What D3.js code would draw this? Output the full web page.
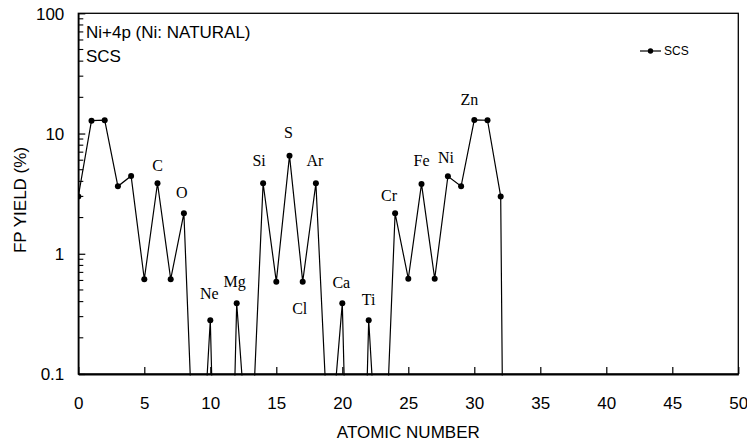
<!DOCTYPE html>
<html><head><meta charset="utf-8">
<script src="https://cdn.jsdelivr.net/npm/d3@7"></script>
<style>
body{margin:0;background:#fff;}
svg{display:block;}
</style></head>
<body>
<svg id="chart" width="747" height="446"></svg>
<script>
// ---- data ----
const atomicNumbers = [0,1,2,3,4,5,6,7,8,9,10,11,12,13,14,15,16,17,18,19,20,21,22,23,24,25,26,27,28,29,30,31,32,33];
const yieldSCS = [3.0,12.8,12.9,3.64,4.44,0.614,3.86,0.614,2.17,0.0034,0.28,0.000013,0.387,0.012,3.86,0.586,6.55,0.586,3.86,0.019,0.387,0.000016,0.28,0.004,2.17,0.62,3.81,0.62,4.41,3.64,12.97,12.9,3.0,1e-12];
const elementZ = [6,8,10,12,14,16,17,18,20,22,24,26,28,30];
const elementNames = ["C","O","Ne","Mg","Si","S","Cl","Ar","Ca","Ti","Cr","Fe","Ni","Zn"];
const labelDx = [0,-2,-1,-2,-4,-1,-3,-1,-1,0,-6,0,-2,-5];
const labelDy = [-18,-21,-27,-22,-23,-23,27,-23,-21,-21,-18,-23,-19,-20];
const xTicks = [0,5,10,15,20,25,30,35,40,45,50];
const yTicks = [0.1,1,10,100];
const yTickLabels = ["0.1","1","10","100"];
const seriesName = "SCS";
const titleLines = ["Ni+4p (Ni: NATURAL)","SCS"];

// ---- layout ----
const L=78.3, R=738.3, T=13.3, B=374;
const svg = d3.select("#chart");
const x = d3.scaleLinear().domain([0,50]).range([L,R]);
const y = d3.scaleLog().domain([0.1,100]).range([B,T]);
const sans = "'Liberation Sans', Arial, sans-serif";
const serif = "'Liberation Serif', 'Times New Roman', serif";

// clip
svg.append("defs").append("clipPath").attr("id","clip")
  .append("rect").attr("x",L).attr("y",T).attr("width",R-L).attr("height",B-T+1.5);

// frame
svg.append("rect").attr("x",L).attr("y",T).attr("width",R-L).attr("height",B-T)
  .attr("fill","none").attr("stroke","#000").attr("stroke-width",1.3);

// x axis
const xAxis = svg.append("g").attr("transform",`translate(0,${B})`)
  .call(d3.axisBottom(x).tickValues(xTicks).tickSizeInner(-7).tickSizeOuter(0).tickFormat(d3.format("d")));
xAxis.select(".domain").attr("stroke","#000").attr("stroke-width",2);
xAxis.selectAll(".tick line").attr("stroke","#000").attr("stroke-width",1.2);
xAxis.selectAll(".tick text").attr("y",29).attr("dy","0.35em")
  .attr("font-family",sans).attr("font-size",17).attr("fill","#000");

// y axis
const yAxis = svg.append("g").attr("transform",`translate(${L},0)`)
  .call(d3.axisLeft(y).tickValues(yTicks).tickSizeInner(-7).tickSizeOuter(0)
    .tickFormat((d,i)=>yTickLabels[i]));
yAxis.select(".domain").attr("stroke","#000").attr("stroke-width",1.5);
yAxis.selectAll(".tick line").attr("stroke","#000").attr("stroke-width",1.2);
yAxis.selectAll(".tick text").attr("x",-14).attr("dy","0.35em")
  .attr("font-family",sans).attr("font-size",17).attr("fill","#000");

// minor y ticks
const minor = [];
[0.1,1,10].forEach(dec=>{ for(let k=2;k<=9;k++) minor.push(dec*k); });
svg.append("g").selectAll("line").data(minor).join("line")
  .attr("x1",L).attr("x2",L+5).attr("y1",d=>y(d)).attr("y2",d=>y(d))
  .attr("stroke","#000").attr("stroke-width",1.1);

// line + markers
const plot = svg.append("g").attr("clip-path","url(#clip)");
const pts = atomicNumbers.map((z,i)=>({z, v:yieldSCS[i]}));
plot.append("path").datum(pts)
  .attr("d", d3.line().x(d=>x(d.z)).y(d=>y(d.v)))
  .attr("fill","none").attr("stroke","#000").attr("stroke-width",1.2);
plot.selectAll("circle").data(pts.filter(d=>d.v>=0.1)).join("circle")
  .attr("cx",d=>x(d.z)).attr("cy",d=>y(d.v)).attr("r",3).attr("fill","#000");

// element labels
svg.append("g").selectAll("text").data(elementZ).join("text")
  .attr("x",(z,i)=>x(z)+labelDx[i])
  .attr("y",(z,i)=>y(yieldSCS[atomicNumbers.indexOf(z)])+labelDy[i])
  .attr("text-anchor","middle").attr("dominant-baseline","central")
  .attr("font-family",serif).attr("font-size",16).attr("fill","#000")
  .text((z,i)=>elementNames[i]);

// title text inside plot
svg.append("g").selectAll("text").data(titleLines).join("text")
  .attr("x",86).attr("y",(d,i)=>37.5+i*24)
  .attr("font-family",sans).attr("font-size",17).attr("fill","#000")
  .text(d=>d);

// legend
const lg = svg.append("g");
lg.append("line").attr("x1",640).attr("x2",661).attr("y1",51).attr("y2",51)
  .attr("stroke","#000").attr("stroke-width",1.2);
lg.append("circle").attr("cx",650.5).attr("cy",51).attr("r",2.7).attr("fill","#000");
lg.append("text").attr("x",664).attr("y",51).attr("dominant-baseline","central")
  .attr("font-family",sans).attr("font-size",12).attr("fill","#000").text(seriesName);

// axis titles
svg.append("text").attr("x",x(25)).attr("y",432).attr("text-anchor","middle")
  .attr("dominant-baseline","central")
  .attr("font-family",sans).attr("font-size",17).attr("fill","#000").text("ATOMIC NUMBER");
svg.append("text").attr("transform","translate(20,200) rotate(-90)")
  .attr("text-anchor","middle").attr("dominant-baseline","central")
  .attr("font-family",sans).attr("font-size",17).attr("fill","#000").text("FP YIELD (%)");
</script>
</body></html>
